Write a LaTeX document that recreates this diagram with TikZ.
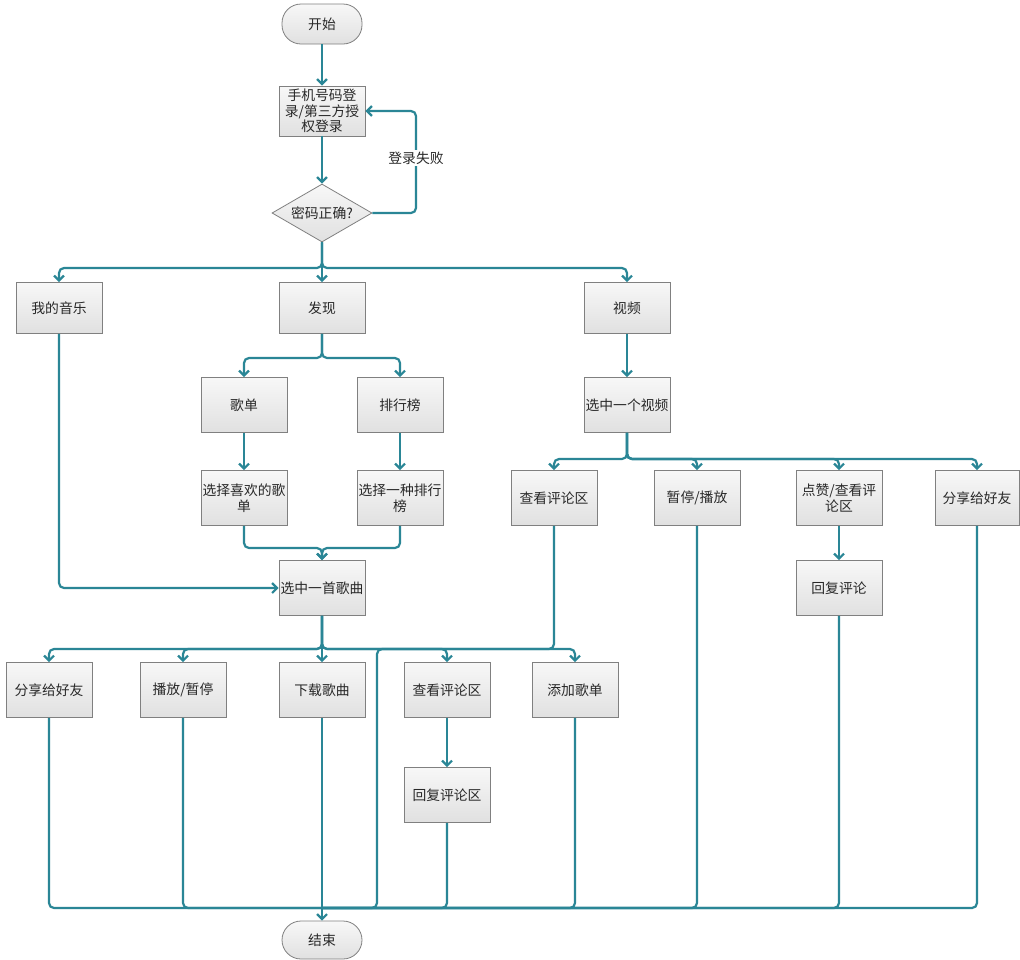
\documentclass[tikz,border=0pt]{standalone}
\usepackage{fontspec}
\newfontfamily\cjk{Noto Sans CJK SC}
\usetikzlibrary{shapes.geometric,arrows.meta}
\definecolor{lnk}{RGB}{42,134,150}
\definecolor{txt}{RGB}{40,40,40}
\begin{document}
\begin{tikzpicture}[x=1pt,y=-1pt,
  box/.style={draw=black!50, line width=0.8pt, top color=black!3, bottom color=black!12,
    minimum width=86pt, minimum height=55pt, align=center, inner sep=1pt,
    font=\cjk\fontsize{13.8}{15.5}\selectfont, text=txt},
  term/.style={box, rounded corners=19pt, minimum width=80pt, minimum height=40pt},
  dec/.style={box, diamond, aspect=1.75, minimum width=100pt, minimum height=58pt, inner sep=0pt},
  lbl/.style={fill=white, inner sep=2pt, font=\cjk\fontsize{13.8}{15.5}\selectfont, text=txt},
  conn/.style={draw=lnk, line width=2.2pt, rounded corners=5pt},
  arr/.style={conn, -{Straight Barb[length=5pt,width=10pt]}}]
\useasboundingbox (0,0) rectangle (1020,959);
\fill[white] (0,0) rectangle (1020,959);
% nodes
\node[term] (start) at (322,24) {开始};
\node[box, minimum height=50pt] (login) at (322,111) {手机号码登\\录/第三方授\\权登录};
\node[dec] (pw) at (322,213) {密码正确?};
\node[box, minimum height=51pt] (mine) at (59,308) {我的音乐};
\node[box, minimum height=51pt] (find) at (322,308) {发现};
\node[box, minimum height=51pt] (video) at (627,308) {视频};
\node[box] (gd) at (244,405) {歌单};
\node[box] (phb) at (400,405) {排行榜};
\node[box] (xgd) at (244,498) {选择喜欢的歌\\单};
\node[box] (xphb) at (400,498) {选择一种排行\\榜};
\node[box] (song) at (322,588) {选中一首歌曲};
\node[box] (vsel) at (627,405) {选中一个视频};
\node[box] (vcm) at (554,498) {查看评论区};
\node[box] (vpp) at (697,498) {暂停/播放};
\node[box] (vlike) at (839,498) {点赞/查看评\\论区};
\node[box, minimum width=84pt] (vshare) at (977,498) {分享给好友};
\node[box] (vreply) at (839,588) {回复评论};
\node[box] (sshare) at (49,690) {分享给好友};
\node[box] (splay) at (183,690) {播放/暂停};
\node[box] (sdl) at (322,690) {下载歌曲};
\node[box] (scm) at (447,690) {查看评论区};
\node[box] (sadd) at (575,690) {添加歌单};
\node[box] (sreply) at (447,795) {回复评论区};
\node[term, minimum height=38pt] (end) at (322,940) {结束};
% coordinates
\coordinate (fl) at (416,0);
\coordinate (b1) at (322,268);
\coordinate (b2) at (322,358);
\coordinate (j1) at (322,548);
\coordinate (b3) at (627,459);
\coordinate (b4) at (322,649);
\coordinate (c1) at (377,649);
\coordinate (c2) at (377,908);
\coordinate (b5) at (322,908);
% connectors
\draw[arr] (start) -- (login);
\draw[arr] (login) -- (pw);
\draw[arr] (pw.east) -- (pw.east -| fl) -- (login.east -| fl) -- (login.east);
\node[lbl] (fail) at (416,158) {登录失败};
\draw[arr] (pw.south) -- (b1) -| (mine.north);
\draw[arr] (pw.south) -- (b1) -| (video.north);
\draw[arr] (pw.south) -- (find.north);
\draw[arr] (find.south) -- (b2) -| (gd.north);
\draw[arr] (find.south) -- (b2) -| (phb.north);
\draw[arr] (gd) -- (xgd);
\draw[arr] (phb) -- (xphb);
\draw[arr] (xgd.south) |- (j1) -- (song.north);
\draw[arr] (xphb.south) |- (j1) -- (song.north);
\draw[arr] (mine.south) |- (song.west);
\draw[arr] (video) -- (vsel);
\draw[arr] (vsel.south) -- (b3) -| (vcm.north);
\draw[arr] (vsel.south) -- (b3) -| (vpp.north);
\draw[arr] (vsel.south) -- (b3) -| (vlike.north);
\draw[arr] (vsel.south) -- (b3) -| (vshare.north);
\draw[arr] (vlike) -- (vreply);
\draw[arr] (song.south) -- (b4) -| (sshare.north);
\draw[arr] (song.south) -- (b4) -| (splay.north);
\draw[arr] (song.south) -- (sdl.north);
\draw[arr] (song.south) -- (b4) -| (scm.north);
\draw[arr] (song.south) -- (b4) -| (sadd.north);
\draw[arr] (scm) -- (sreply);
\draw[conn] (vcm.south) |- (c1) -- (c2) -- (b5);
\draw[conn] (sshare.south) |- (b5);
\draw[conn] (splay.south) |- (b5);
\draw[conn] (sreply.south) |- (b5);
\draw[conn] (sadd.south) |- (b5);
\draw[conn] (vpp.south) |- (b5);
\draw[conn] (vreply.south) |- (b5);
\draw[conn] (vshare.south) |- (b5);
\draw[arr] (sdl.south) -- (end.north);
\end{tikzpicture}
\end{document}
